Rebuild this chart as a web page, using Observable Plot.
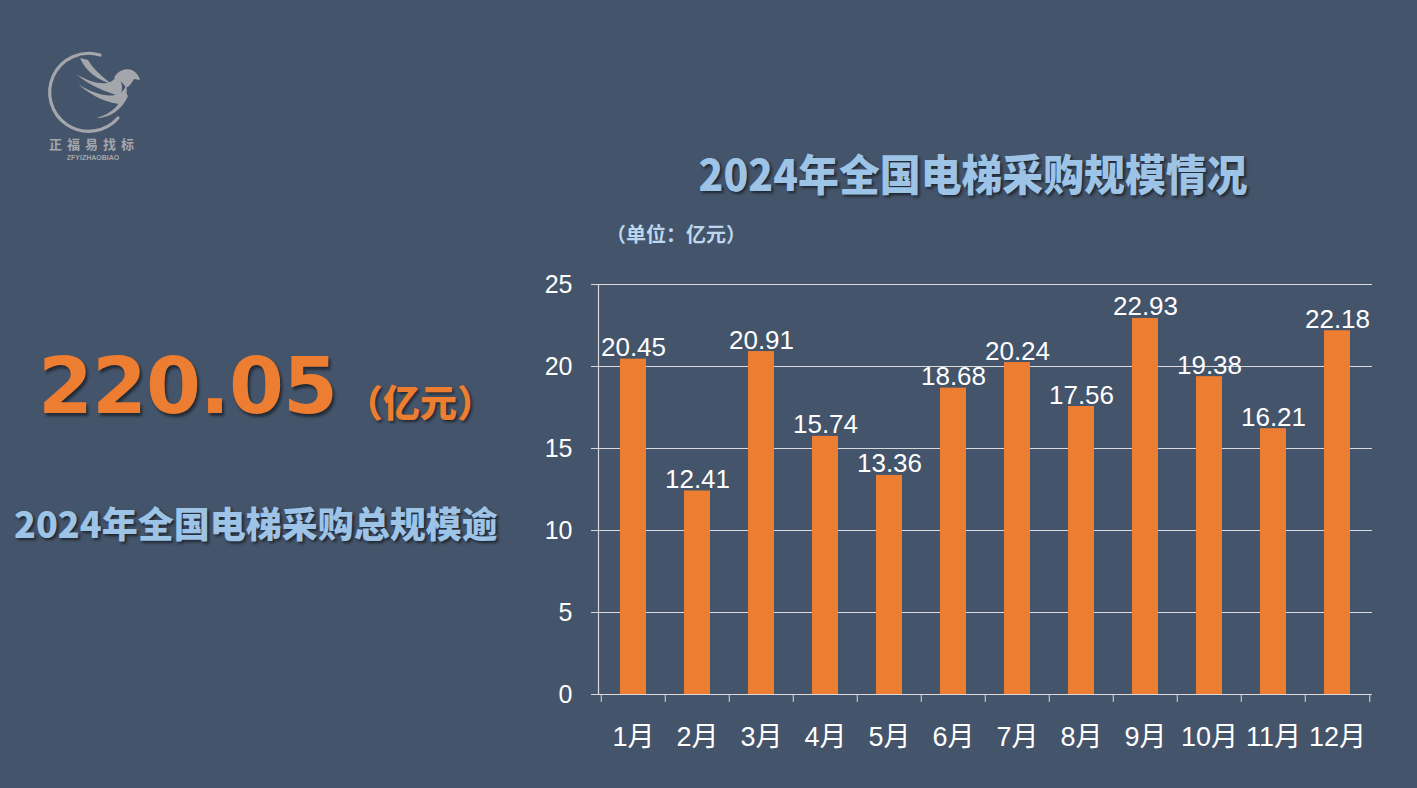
<!DOCTYPE html>
<html>
<head>
<meta charset="utf-8">
<script src="https://cdn.jsdelivr.net/npm/d3@7"></script>
<script src="https://cdn.jsdelivr.net/npm/@observablehq/plot@0.6"></script>
<style>
  html, body { margin: 0; padding: 0; }
  body { width: 1417px; height: 788px; background: #44546a; position: relative; overflow: hidden;
         font-family: "Noto Sans CJK SC", "Liberation Sans", sans-serif; }
  .abs { position: absolute; line-height: 1; white-space: nowrap; }
  #chart { position: absolute; left: 0; top: 0; }
</style>
</head>
<body>
<svg class="abs" style="left:0;top:0" width="200" height="180">
  <g fill="none" stroke="#a3a6ab" stroke-width="3.2" stroke-linecap="round">
    <path d="M 100 55 A 39 39 0 1 0 118 118"/>
  </g>
  <g fill="#a3a6ab">
    <path d="M 80 58 C 86 72 98 80 112 84 C 104 78 94 70 88 60 Z"/>
    <path d="M 76 74 C 90 86 106 92 120 96 C 124 88 122 80 116 76 C 112 86 96 86 76 74 Z"/>
    <path d="M 78 84 C 94 98 110 104 122 104 C 126 98 128 92 126 86 C 120 100 100 98 78 84 Z"/>
    <path d="M 96 118 C 110 118 122 110 128 96 L 124 90 C 122 104 112 114 96 118 Z"/>
    <path d="M 114 78 C 118 70 126 68 132 70 C 136 72 139 76 140 80 L 134 79 C 132 82 130 86 126 88 C 124 84 120 80 114 78 Z"/>
  </g>
  <text x="94" y="149" text-anchor="middle" font-family="Noto Sans CJK SC" font-weight="700" font-size="13" letter-spacing="5" fill="#a3a6ab">正福易找标</text>
  <text x="93" y="160" text-anchor="middle" font-family="Liberation Sans" font-weight="700" font-size="7" fill="#a3a6ab">ZFYIZHAOBIAO</text>
</svg>
<div id="chart"></div>
<div class="abs" id="title" style="left:973px;top:172px;transform:translate(-50%,-50%) scaleX(0.95);font-size:43px;font-weight:900;color:#9dc3e6;text-shadow:2px 2px 3px rgba(0,0,0,0.55);">2024年全国电梯采购规模情况</div>
<div class="abs" id="unit" style="left:606px;top:234px;transform:translateY(-50%);font-size:20px;font-weight:700;color:#bdd7ee;">（单位：亿元）</div>
<div class="abs" id="total" style="left:38px;top:386px;transform:translateY(-50%);font-family:'DejaVu Sans';font-size:79px;font-weight:700;color:#ed7d31;text-shadow:2px 3px 3px rgba(0,0,0,0.5);letter-spacing:-1px;"></div>
<div class="abs" id="totalUnit" style="left:346px;top:401px;transform:translateY(-50%);font-size:37px;font-weight:900;color:#ed7d31;text-shadow:2px 2px 3px rgba(0,0,0,0.5);">（亿元）</div>
<div class="abs" id="lead" style="left:14px;top:522px;transform:translateY(-50%);font-size:36px;font-weight:900;color:#9dc3e6;text-shadow:2px 2px 3px rgba(0,0,0,0.55);">2024年全国电梯采购总规模逾</div>
<script>
const months = ["1月","2月","3月","4月","5月","6月","7月","8月","9月","10月","11月","12月"];
const values = [20.45, 12.41, 20.91, 15.74, 13.36, 18.68, 20.24, 17.56, 22.93, 19.38, 16.21, 22.18];
const yTicks = [0, 5, 10, 15, 20, 25];

const data = months.map((m, i) => ({month: m, value: values[i]}));
document.getElementById("total").textContent = d3.sum(values).toFixed(2);

const W = 1417, H = 788;
const mL = 598, mR = 45, mT = 284, mB = 94;
const step = (W - mL - mR) / months.length;
const white = "#ffffff";
const grid = "#d9d9d9";

const chart = Plot.plot({
  width: W, height: H,
  marginLeft: mL, marginRight: mR, marginTop: mT, marginBottom: mB,
  style: {background: "transparent", color: white, fontFamily: "'Liberation Sans', 'Noto Sans CJK SC', sans-serif", overflow: "visible"},
  x: {type: "band", domain: months, paddingInner: 0.6, paddingOuter: 0.3, label: null},
  y: {domain: [0, 25], label: null},
  marks: [
    Plot.gridY(yTicks, {stroke: grid, strokeOpacity: 1, strokeWidth: 1.2}),
    Plot.axisY(yTicks, {tickSize: 7, tickPadding: 19, fontSize: 25, stroke: grid, strokeOpacity: 1, fill: white, tickFormat: d => String(d)}),
    Plot.frame({anchor: "left", stroke: grid, strokeWidth: 1.2}),
    Plot.barY(data, {x: "month", y: "value", fill: "#ed7d31"}),
    Plot.axisX({tickSize: 8, text: null, dx: -step / 2, stroke: grid, strokeOpacity: 1}),
    Plot.axisX([months[months.length - 1]], {tickSize: 8, text: null, dx: step / 2, stroke: grid, strokeOpacity: 1}),
    Plot.axisX({tickSize: 0, tickPadding: 32, fontSize: 27, fill: white}),
    Plot.ruleY([0], {stroke: grid, strokeWidth: 1.2}),
    Plot.text(data, {x: "month", y: "value", text: d => d.value.toFixed(2), lineAnchor: "bottom", dy: -3, fontSize: 26, fill: white})
  ]
});
document.getElementById("chart").appendChild(chart);
</script>
</body>
</html>
